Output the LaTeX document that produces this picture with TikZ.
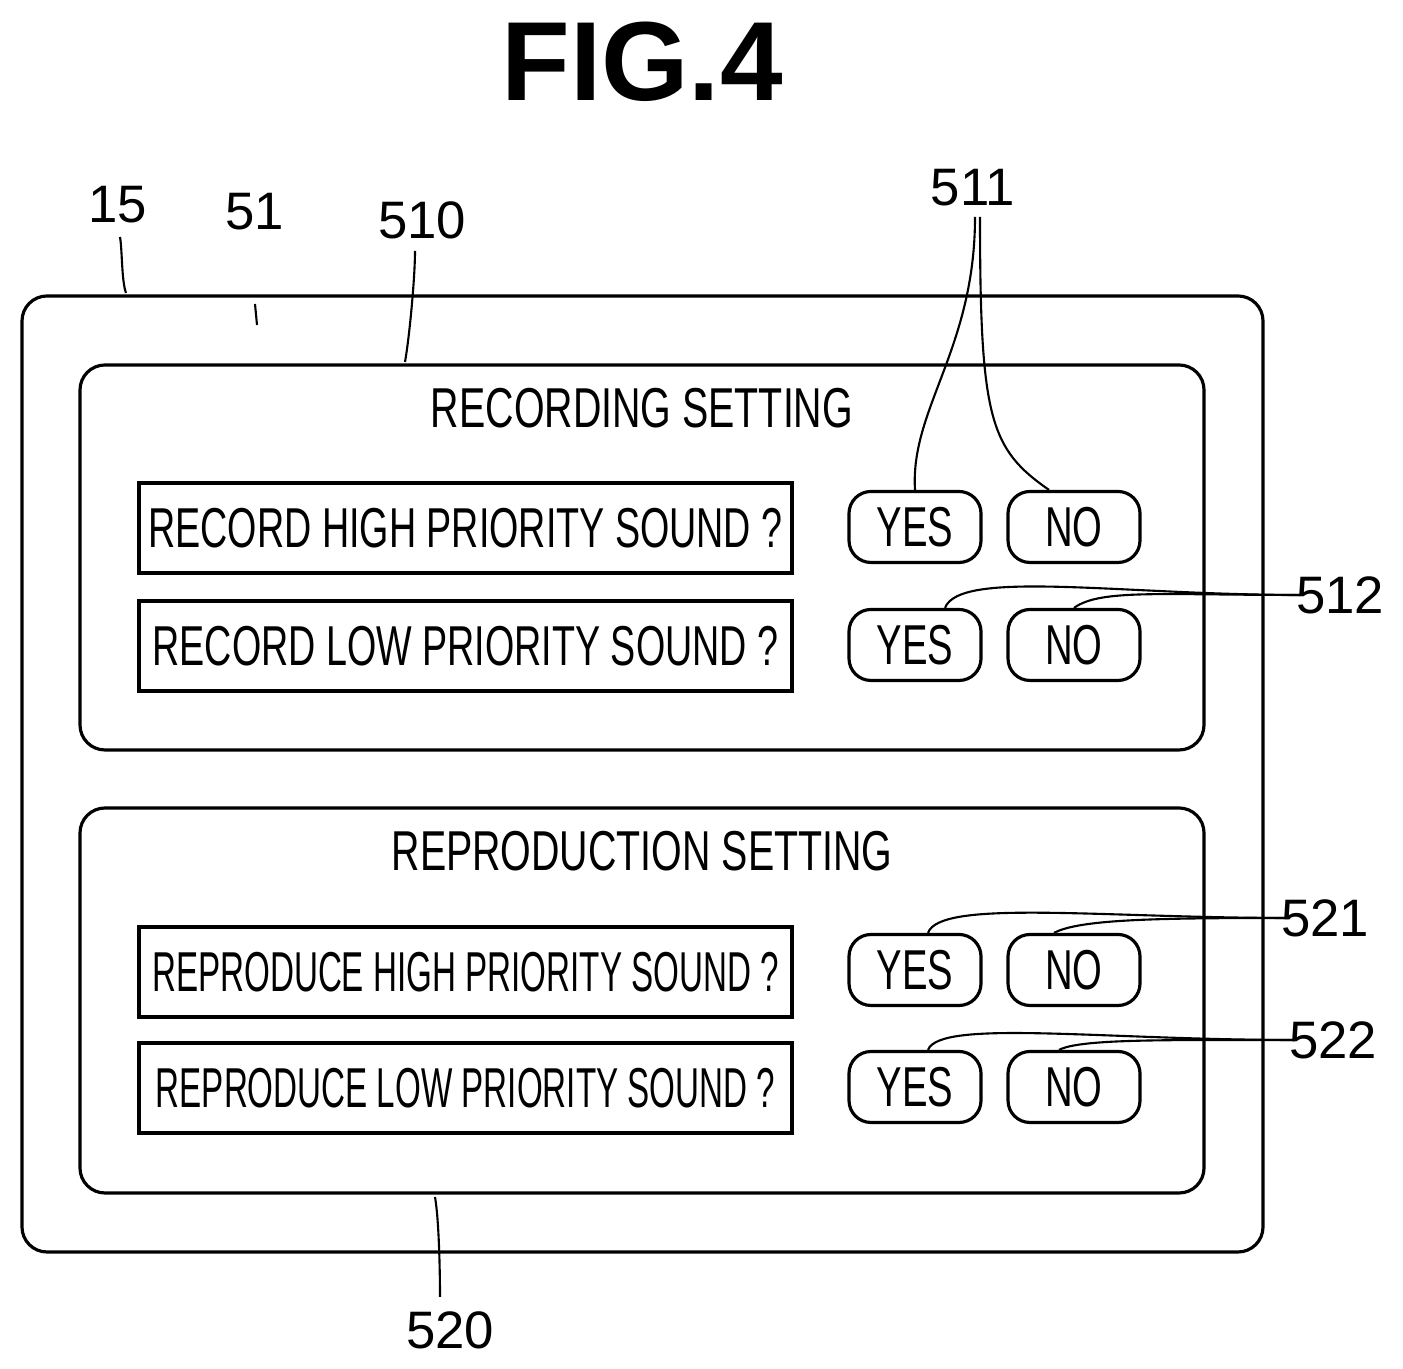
\documentclass[tikz,border=0pt]{standalone}
\usepackage{fontspec}
\setmainfont{Liberation Sans}
\usetikzlibrary{positioning,calc}
\newcommand{\cond}[2][0.62]{\scalebox{#1}[1]{#2}}
\tikzset{
    panel/.style={draw, line width=0.9pt, rounded corners=0.25cm},
    qbox/.style={draw, line width=0.9pt, minimum width=6.53cm, minimum height=0.9cm, inner xsep=1pt, font=\fontsize{16}{18}\selectfont},
    btn/.style={draw, line width=0.9pt, rounded corners=0.22cm, minimum width=1.32cm, minimum height=0.71cm, font=\fontsize{16}{18}\selectfont},
    lbl/.style={font=\fontsize{15}{17}\selectfont},
    lead/.style={line width=0.6pt, looseness=0.6}
}
\begin{document}
\begin{tikzpicture}
        \useasboundingbox (0,0) rectangle (14.03,13.69);
        \node (fig) at (6.42,13.07) {\fontsize{32}{36}\selectfont\bfseries FIG.4};
        % panels
        \draw[panel] (0.22,1.17) rectangle (12.63,10.73);
        \draw[panel] (0.80,6.19) rectangle (12.04,10.04);
        \draw[panel] (0.80,1.76) rectangle (12.04,5.61);
        \node (rec) at (6.42,9.61) {\fontsize{16}{18}\selectfont\cond[0.7]{RECORDING SETTING}};
        \node (rep) at (6.42,5.18) {\fontsize{16}{18}\selectfont\cond[0.7]{REPRODUCTION SETTING}};
        % question rows
        \node[qbox] (q1) at (4.655,8.41) {\cond[0.67]{RECORD HIGH PRIORITY SOUND ?}};
        \node[qbox] (q2) at (4.655,7.23) {\cond[0.67]{RECORD LOW PRIORITY SOUND ?}};
        \node[qbox] (q3) at (4.655,3.97) {\cond[0.59]{REPRODUCE HIGH PRIORITY SOUND ?}};
        \node[qbox] (q4) at (4.655,2.81) {\cond[0.59]{REPRODUCE LOW PRIORITY SOUND ?}};
        \foreach \n/\y in {1/8.42,2/7.24,3/3.99,4/2.82}{
                \node[btn] (y\n) at (9.15,\y) {\cond[0.68]{YES}};
                \node[btn] (n\n) at (10.74,\y) {\cond[0.68]{NO}};
        }
        % reference numerals
        \node[lbl] (l15) at (1.18,11.64) {15};
        \node[lbl] (l51) at (2.55,11.57) {51};
        \node[lbl] (l510) at (4.22,11.49) {510};
        \node[lbl] (l511) at (9.73,11.81) {511};
        \node[lbl] (l512) at (13.40,7.74) {512};
        \node[lbl] (l521) at (13.25,4.51) {521};
        \node[lbl] (l522) at (13.33,3.29) {522};
        \node[lbl] (l520) at (4.50,0.39) {520};
        \coordinate (e15) at (1.26,10.76);
        \coordinate (e51) at (2.57,10.44);
        \coordinate (e510) at (4.05,10.07);
        \coordinate (e520) at (4.35,1.72);
        \draw[lead] (1.20,11.32) to[out=-80,in=110] (e15);
        \draw[lead] (2.55,10.65) -- (e51);
        \draw[lead] (4.15,11.18) to[out=-90,in=80] (e510);
        \draw[lead] (4.40,0.72) to[out=90,in=-80] (e520);
        \draw[lead] (9.75,11.52) .. controls (9.75,10.2) and (9.1,9.6) .. (y1.north);
        \draw[lead] (9.80,11.52) .. controls (9.80,9.5) and (9.9,9.2) .. ($(n1.north)-(0.25,0)$);
        \draw[lead] (13.00,7.74) .. controls (11.2,7.74) and (9.6,8.0) .. ($(y2.north)+(0.3,0)$);
        \draw[lead] (13.00,7.74) .. controls (11.6,7.74) and (11.0,7.8) .. (n2.north);
        \draw[lead] (12.90,4.51) .. controls (11.0,4.51) and (9.4,4.7) .. ($(y3.north)+(0.13,0)$);
        \draw[lead] (12.90,4.51) .. controls (11.6,4.51) and (10.8,4.5) .. ($(n3.north)-(0.2,0)$);
        \draw[lead] (12.95,3.29) .. controls (11.0,3.29) and (9.4,3.5) .. ($(y4.north)+(0.13,0)$);
        \draw[lead] (12.95,3.29) .. controls (11.6,3.29) and (10.8,3.3) .. ($(n4.north)-(0.15,0)$);
\end{tikzpicture}
\end{document}
